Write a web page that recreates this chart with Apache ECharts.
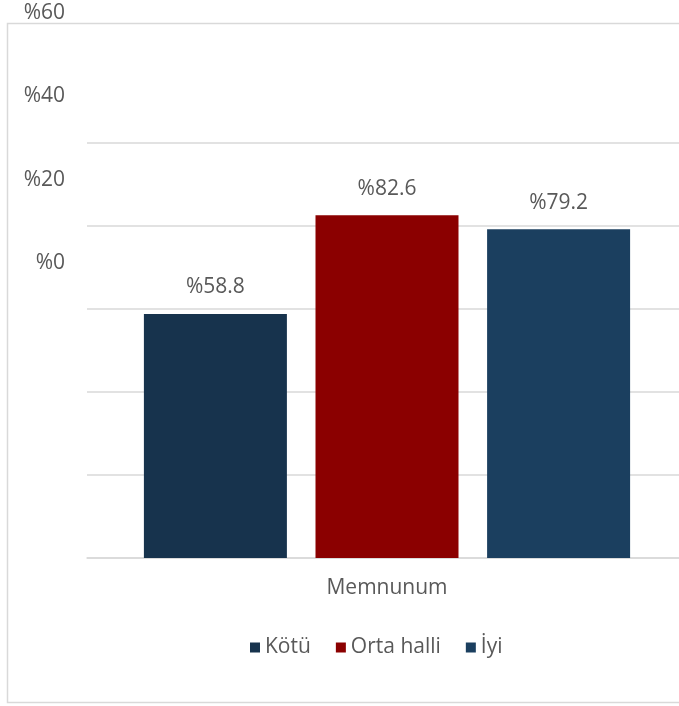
<!DOCTYPE html>
<html>
<head>
<meta charset="utf-8">
<script src="https://cdn.jsdelivr.net/npm/echarts@6/dist/echarts.min.js"></script>
<style>html,body{margin:0;padding:0;background:#fff;}#c{width:679px;height:706px;}</style>
</head>
<body>
<div id="c"></div>
<script>
const categories = ["Memnunum"];
const seriesNames = ["Kötü", "Orta halli", "İyi"];
const seriesValues = [[58.8], [82.6], [79.2]];
const seriesColors = ["#17334d", "#8b0000", "#1b3f5f"];
const tickLabels = [0, 20, 40, 60];

const FONT = "'Open Sans', sans-serif";
const TXT = "#595959";

const chart = echarts.init(document.getElementById('c'));
chart.setOption({
  backgroundColor: '#fff',
  animation: false,
  textStyle: { fontFamily: FONT },
  graphic: [{
    type: 'rect',
    shape: { x: 7.5, y: 23.5, width: 760, height: 679 },
    style: { fill: 'none', stroke: '#d9d9d9', lineWidth: 1.5 },
    z: -10
  }],
  legend: {
    data: seriesNames,
    left: 245,
    top: 632,
    icon: 'rect',
    itemWidth: 10,
    itemHeight: 10,
    itemGap: 25,
    textStyle: { color: TXT, fontSize: 21, fontFamily: FONT }
  },
  grid: [
    { left: 87, top: 143, width: 600, height: 415, outerBoundsMode: 'none', containLabel: false },
    { left: 73, top: 13, width: 10, height: 250, outerBoundsMode: 'none' }
  ],
  xAxis: [
    {
      type: 'category', gridIndex: 0, data: categories,
      axisLine: { lineStyle: { color: '#d9d9d9', width: 1.5 } },
      axisTick: { show: false },
      axisLabel: { color: TXT, fontSize: 21, margin: 20, fontFamily: FONT }
    },
    { type: 'category', gridIndex: 1, data: categories, show: false }
  ],
  yAxis: [
    {
      type: 'value', gridIndex: 0, min: 0, max: 100, interval: 20,
      axisLabel: { show: false },
      axisLine: { show: false },
      axisTick: { show: false },
      splitLine: { lineStyle: { color: '#d9d9d9', width: 1.5 } }
    },
    {
      type: 'value', gridIndex: 1,
      min: tickLabels[0], max: tickLabels[tickLabels.length - 1], interval: 20,
      axisLine: { show: false },
      axisTick: { show: false },
      splitLine: { show: false },
      axisLabel: { color: TXT, fontSize: 21, margin: 8, fontFamily: FONT, formatter: v => '%' + v }
    }
  ],
  series: seriesNames.map((name, i) => ({
    name: name,
    type: 'bar',
    xAxisIndex: 0,
    yAxisIndex: 0,
    data: seriesValues[i],
    barWidth: 143,
    barGap: '20%',
    itemStyle: { color: seriesColors[i] },
    label: {
      show: true, position: 'top', distance: 16,
      color: TXT, fontSize: 21, fontFamily: FONT,
      formatter: p => '%' + p.value
    }
  }))
});
</script>
</body>
</html>
